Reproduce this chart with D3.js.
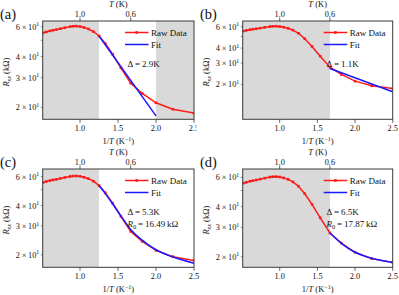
<!DOCTYPE html>
<html>
<head>
<meta charset="utf-8">
<script src="https://cdn.jsdelivr.net/npm/d3@7"></script>
<style>
  body { margin: 0; background: #fff; }
  svg { display: block; font-family: "Liberation Serif", "DejaVu Serif", serif; }
</style>
</head>
<body>
<svg id="chart" width="399" height="295"></svg>
<script>
// raw data: 1/T (K^-1) and R_xx (kOhm)
const invT = [0.513, 0.556, 0.606, 0.645, 0.69, 0.741, 0.8, 0.87, 0.909, 0.952, 1.0, 1.053,
  1.111, 1.176, 1.25, 1.333, 1.429, 1.538, 1.667, 1.818, 2.0, 2.222, 2.5];
const rawR = [55.3, 56.0, 56.8, 57.3, 57.8, 58.5, 59.3, 60.2, 60.5, 60.6, 60.3, 59.5,
  58.3, 56.3, 53.0, 47.8, 41.3, 34.3, 27.8, 24.2, 21.3, 19.5, 18.5];

// fits
const fitAx = [1.25, 2.0];
const fitAy = [53.0, 17.8];
const fitBx = [1.667, 2.5];
const fitBy = [27.1, 17.4];
const fitCx = [1.25, 1.333, 1.429, 1.538, 1.667, 1.818, 2.0, 2.222, 2.5];
const fitCy = [53.0, 47.3, 41.0, 34.6, 28.6, 24.6, 21.5, 19.4, 17.8];
const fitDx = [1.667, 1.818, 2.0, 2.222, 2.5];
const fitDy = [27.8, 24.1, 21.3, 19.6, 18.5];

const panelLabels = ["(a)", "(b)", "(c)", "(d)"];
const deltas = ["2.9K", "1.1K", "5.3K", "6.5K"];
const r0s = [null, null, "16.49", "17.87"];
const yDomains = [[17, 65], [10.3, 67], [16.8, 66.8], [17.3, 67.3]];
const shades = [[[0, 1.25], [2.0, 3]], [[0, 1.667]], [[0, 1.25]], [[0, 1.667]]];
const xTicks = [1.0, 1.5, 2.0, 2.5];
const topTicks = [1.0, 0.6];
const yMinor = [20, 30, 40, 50, 60];
const yLabeled = [20, 30, 40, 60];

const fits = [
  fitAx.map((x, i) => ({ x, y: fitAy[i] })),
  fitBx.map((x, i) => ({ x, y: fitBy[i] })),
  fitCx.map((x, i) => ({ x, y: fitCy[i] })),
  fitDx.map((x, i) => ({ x, y: fitDy[i] }))
];
const raw = invT.map((x, i) => ({ x, y: rawR[i] }));

const svg = d3.select("#chart");
const defs = svg.append("defs");
const frame = "#3a3a3a";
const ink = "#111";
const red = "#ff1a1a", blue = "#1a1aff";

const origins = [[0, 0], [200, 0], [0, 148], [200, 148]];

origins.forEach(([ox, oy], k) => {
  const left = 42.7, right = k % 2 ? 192.7 : 194, top = 21, bottom = 119.3;

  defs.append("clipPath").attr("id", "aclip" + k)
    .append("rect").attr("x", left).attr("y", top)
    .attr("width", right - left).attr("height", bottom - top);

  const g = svg.append("g").attr("transform", `translate(${ox},${oy})`);

  const x = d3.scaleLinear().domain([0.509, 2.5]).range([left, right]);
  const y = d3.scaleLog().domain(yDomains[k]).range([bottom, top]);

  const plot = g.append("g").attr("clip-path", `url(#aclip${k})`);

  // shaded regions
  shades[k].forEach(([a, b]) => {
    plot.append("rect")
      .attr("x", x(a)).attr("y", top)
      .attr("width", x(b) - x(a)).attr("height", bottom - top)
      .attr("fill", "#d9d9d9");
  });

  const line = d3.line().x(d => x(d.x)).y(d => y(d.y));

  plot.append("path").datum(raw)
    .attr("d", line)
    .attr("fill", "none").attr("stroke", red).attr("stroke-width", 1.5);
  plot.selectAll("rect.pt").data(raw).enter().append("rect")
    .attr("class", "pt")
    .attr("x", d => x(d.x) - 1.3).attr("y", d => y(d.y) - 1.3)
    .attr("width", 2.6).attr("height", 2.6).attr("fill", red);

  plot.append("path").datum(fits[k])
    .attr("d", line.curve(d3.curveMonotoneX))
    .attr("fill", "none").attr("stroke", blue).attr("stroke-width", 1.5);

  // frame
  g.append("rect")
    .attr("x", left).attr("y", top)
    .attr("width", right - left).attr("height", bottom - top)
    .attr("fill", "none").attr("stroke", frame).attr("stroke-width", 1);

  // bottom ticks
  xTicks.forEach(t => {
    g.append("line").attr("x1", x(t)).attr("x2", x(t))
      .attr("y1", bottom).attr("y2", bottom + 3.5)
      .attr("stroke", frame).attr("stroke-width", 0.8);
    g.append("text").attr("x", x(t)).attr("y", bottom + 11.5)
      .attr("text-anchor", "middle").attr("font-size", 8.3).attr("fill", ink)
      .text(t.toFixed(1));
  });
  const xl = g.append("text").attr("x", (left + right) / 2).attr("y", bottom + 25)
    .attr("text-anchor", "middle").attr("font-size", 8.5).attr("fill", ink);
  xl.append("tspan").text("1/");
  xl.append("tspan").attr("font-style", "italic").text("T");
  xl.append("tspan").text(" (K");
  xl.append("tspan").attr("font-size", 6).attr("dy", -3.5).text("−1");
  xl.append("tspan").attr("dy", 3.5).text(")");

  // top ticks (temperature)
  topTicks.forEach(t => {
    g.append("line").attr("x1", x(1 / t)).attr("x2", x(1 / t))
      .attr("y1", top).attr("y2", top - 3.5)
      .attr("stroke", frame).attr("stroke-width", 0.8);
    g.append("text").attr("x", x(1 / t)).attr("y", top - 4.5)
      .attr("text-anchor", "middle").attr("font-size", 8.3).attr("fill", ink)
      .text(t.toFixed(1));
  });
  const tl = g.append("text").attr("x", (left + right) / 2).attr("y", top - 14)
    .attr("text-anchor", "middle").attr("font-size", 8.5).attr("fill", ink);
  tl.append("tspan").attr("font-style", "italic").text("T");
  tl.append("tspan").text(" (K)");

  // y ticks (log)
  yMinor.filter(v => v >= yDomains[k][0] && v <= yDomains[k][1]).forEach(v => {
    g.append("line").attr("x1", left).attr("x2", left - 2)
      .attr("y1", y(v)).attr("y2", y(v))
      .attr("stroke", frame).attr("stroke-width", 0.6);
  });
  yLabeled.forEach(v => {
    const lab = g.append("text").attr("x", left - 3.5).attr("y", y(v) + 3)
      .attr("text-anchor", "end").attr("font-size", 8.3).attr("fill", ink);
    lab.append("tspan").text(`${v / 10}\u2009×\u200910`);
    lab.append("tspan").attr("font-size", 5.8).attr("dy", -3.5).text("1");
  });
  const yl = g.append("text")
    .attr("transform", `translate(9,${(top + bottom) / 2 + 2}) rotate(-90)`)
    .attr("text-anchor", "middle").attr("font-size", 8.5).attr("fill", ink);
  yl.append("tspan").attr("font-style", "italic").text("R");
  yl.append("tspan").attr("font-style", "italic").attr("font-size", 6).attr("dy", 2).text("xx");
  yl.append("tspan").attr("dy", -2).text(" (kΩ)");

  // panel label
  g.append("text").attr("x", 0).attr("y", 18.5).attr("font-size", 14.5).attr("fill", ink)
    .text(panelLabels[k]);

  // legend
  const lx0 = right - 69, lx1 = right - 45.5;
  [[red, "Raw Data", top + 11.5], [blue, "Fit", top + 23.5]].forEach(([c, txt, ly], i) => {
    g.append("line").attr("x1", lx0).attr("x2", lx1).attr("y1", ly).attr("y2", ly)
      .attr("stroke", c).attr("stroke-width", 1.5);
    if (i === 0) {
      g.append("rect").attr("x", (lx0 + lx1) / 2 - 1.3).attr("y", ly - 1.3)
        .attr("width", 2.6).attr("height", 2.6).attr("fill", c);
    }
    g.append("text").attr("x", right - 43).attr("y", ly + 3)
      .attr("font-size", 9).attr("fill", ink).text(txt);
  });

  // annotations
  const ax = k % 2 ? 126.5 : 127.5;
  g.append("text").attr("x", ax).attr("y", top + 46)
    .attr("font-size", 9).attr("fill", ink)
    .text(`Δ\u2009=\u2009${deltas[k]}`);
  if (r0s[k]) {
    const r = g.append("text").attr("x", ax).attr("y", top + 57.5)
      .attr("font-size", 9).attr("fill", ink);
    r.append("tspan").attr("font-style", "italic").text("R");
    r.append("tspan").attr("font-size", 6.5).attr("dy", 2).text("0");
    r.append("tspan").attr("dy", -2).text(`\u2009=\u2009${r0s[k]}\u2009kΩ`);
  }
});

// panel (a) is cut off at the right edge in the figure
svg.append("rect").attr("x", 196.5).attr("y", 121).attr("width", 3.5).attr("height", 14)
  .attr("fill", "#fff");
</script>
</body>
</html>
